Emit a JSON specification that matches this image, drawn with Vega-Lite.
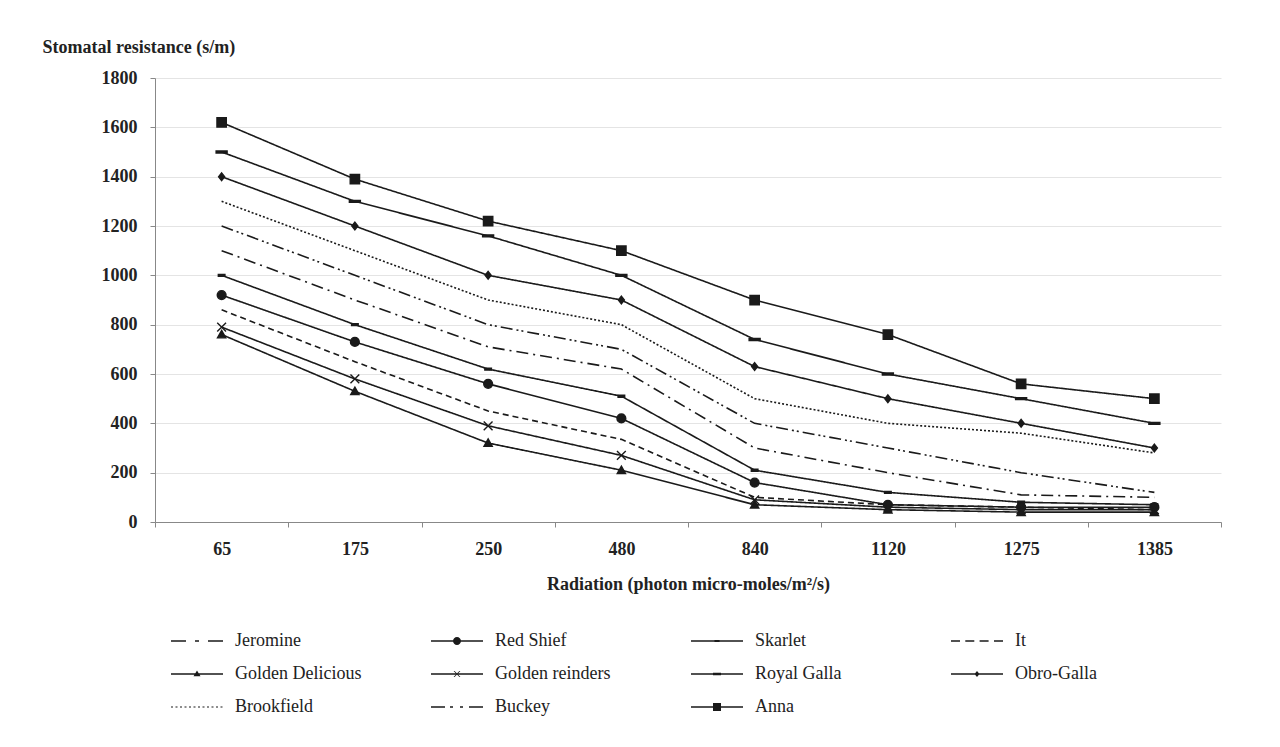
{
  "$schema": "https://vega.github.io/schema/vega-lite/v6.json",
  "width": 1066,
  "height": 444,
  "padding": {"left": 42, "top": 38, "right": 10, "bottom": 10},
  "background": "white",
  "config": {"view": {"stroke": null}, "font": "Liberation Serif"},
  "data": {"values": [
    {"variety": "Anna", "radiation": 65, "resistance": 1620},
    {"variety": "Anna", "radiation": 175, "resistance": 1390},
    {"variety": "Anna", "radiation": 250, "resistance": 1220},
    {"variety": "Anna", "radiation": 480, "resistance": 1100},
    {"variety": "Anna", "radiation": 840, "resistance": 900},
    {"variety": "Anna", "radiation": 1120, "resistance": 760},
    {"variety": "Anna", "radiation": 1275, "resistance": 560},
    {"variety": "Anna", "radiation": 1385, "resistance": 500},
    {"variety": "Royal Galla", "radiation": 65, "resistance": 1500},
    {"variety": "Royal Galla", "radiation": 175, "resistance": 1300},
    {"variety": "Royal Galla", "radiation": 250, "resistance": 1160},
    {"variety": "Royal Galla", "radiation": 480, "resistance": 1000},
    {"variety": "Royal Galla", "radiation": 840, "resistance": 740},
    {"variety": "Royal Galla", "radiation": 1120, "resistance": 600},
    {"variety": "Royal Galla", "radiation": 1275, "resistance": 500},
    {"variety": "Royal Galla", "radiation": 1385, "resistance": 400},
    {"variety": "Obro-Galla", "radiation": 65, "resistance": 1400},
    {"variety": "Obro-Galla", "radiation": 175, "resistance": 1200},
    {"variety": "Obro-Galla", "radiation": 250, "resistance": 1000},
    {"variety": "Obro-Galla", "radiation": 480, "resistance": 900},
    {"variety": "Obro-Galla", "radiation": 840, "resistance": 630},
    {"variety": "Obro-Galla", "radiation": 1120, "resistance": 500},
    {"variety": "Obro-Galla", "radiation": 1275, "resistance": 400},
    {"variety": "Obro-Galla", "radiation": 1385, "resistance": 300},
    {"variety": "Brookfield", "radiation": 65, "resistance": 1300},
    {"variety": "Brookfield", "radiation": 175, "resistance": 1100},
    {"variety": "Brookfield", "radiation": 250, "resistance": 900},
    {"variety": "Brookfield", "radiation": 480, "resistance": 800},
    {"variety": "Brookfield", "radiation": 840, "resistance": 500},
    {"variety": "Brookfield", "radiation": 1120, "resistance": 400},
    {"variety": "Brookfield", "radiation": 1275, "resistance": 360},
    {"variety": "Brookfield", "radiation": 1385, "resistance": 280},
    {"variety": "Buckey", "radiation": 65, "resistance": 1200},
    {"variety": "Buckey", "radiation": 175, "resistance": 1000},
    {"variety": "Buckey", "radiation": 250, "resistance": 800},
    {"variety": "Buckey", "radiation": 480, "resistance": 700},
    {"variety": "Buckey", "radiation": 840, "resistance": 400},
    {"variety": "Buckey", "radiation": 1120, "resistance": 300},
    {"variety": "Buckey", "radiation": 1275, "resistance": 200},
    {"variety": "Buckey", "radiation": 1385, "resistance": 120},
    {"variety": "Jeromine", "radiation": 65, "resistance": 1100},
    {"variety": "Jeromine", "radiation": 175, "resistance": 900},
    {"variety": "Jeromine", "radiation": 250, "resistance": 710},
    {"variety": "Jeromine", "radiation": 480, "resistance": 620},
    {"variety": "Jeromine", "radiation": 840, "resistance": 300},
    {"variety": "Jeromine", "radiation": 1120, "resistance": 200},
    {"variety": "Jeromine", "radiation": 1275, "resistance": 110},
    {"variety": "Jeromine", "radiation": 1385, "resistance": 100},
    {"variety": "Skarlet", "radiation": 65, "resistance": 1000},
    {"variety": "Skarlet", "radiation": 175, "resistance": 800},
    {"variety": "Skarlet", "radiation": 250, "resistance": 620},
    {"variety": "Skarlet", "radiation": 480, "resistance": 510},
    {"variety": "Skarlet", "radiation": 840, "resistance": 210},
    {"variety": "Skarlet", "radiation": 1120, "resistance": 120},
    {"variety": "Skarlet", "radiation": 1275, "resistance": 80},
    {"variety": "Skarlet", "radiation": 1385, "resistance": 70},
    {"variety": "Red Shief", "radiation": 65, "resistance": 920},
    {"variety": "Red Shief", "radiation": 175, "resistance": 730},
    {"variety": "Red Shief", "radiation": 250, "resistance": 560},
    {"variety": "Red Shief", "radiation": 480, "resistance": 420},
    {"variety": "Red Shief", "radiation": 840, "resistance": 160},
    {"variety": "Red Shief", "radiation": 1120, "resistance": 70},
    {"variety": "Red Shief", "radiation": 1275, "resistance": 60},
    {"variety": "Red Shief", "radiation": 1385, "resistance": 60},
    {"variety": "It", "radiation": 65, "resistance": 860},
    {"variety": "It", "radiation": 175, "resistance": 650},
    {"variety": "It", "radiation": 250, "resistance": 450},
    {"variety": "It", "radiation": 480, "resistance": 335},
    {"variety": "It", "radiation": 840, "resistance": 100},
    {"variety": "It", "radiation": 1120, "resistance": 70},
    {"variety": "It", "radiation": 1275, "resistance": 60},
    {"variety": "It", "radiation": 1385, "resistance": 50},
    {"variety": "Golden reinders", "radiation": 65, "resistance": 790},
    {"variety": "Golden reinders", "radiation": 175, "resistance": 580},
    {"variety": "Golden reinders", "radiation": 250, "resistance": 390},
    {"variety": "Golden reinders", "radiation": 480, "resistance": 270},
    {"variety": "Golden reinders", "radiation": 840, "resistance": 90},
    {"variety": "Golden reinders", "radiation": 1120, "resistance": 60},
    {"variety": "Golden reinders", "radiation": 1275, "resistance": 50},
    {"variety": "Golden reinders", "radiation": 1385, "resistance": 50},
    {"variety": "Golden Delicious", "radiation": 65, "resistance": 760},
    {"variety": "Golden Delicious", "radiation": 175, "resistance": 530},
    {"variety": "Golden Delicious", "radiation": 250, "resistance": 320},
    {"variety": "Golden Delicious", "radiation": 480, "resistance": 210},
    {"variety": "Golden Delicious", "radiation": 840, "resistance": 70},
    {"variety": "Golden Delicious", "radiation": 1120, "resistance": 50},
    {"variety": "Golden Delicious", "radiation": 1275, "resistance": 40},
    {"variety": "Golden Delicious", "radiation": 1385, "resistance": 40}
  ]},
  "encoding": {
    "x": {
      "field": "radiation", "type": "ordinal",
      "scale": {"type": "band", "paddingInner": 0, "paddingOuter": 0},
      "axis": {
        "title": "Radiation (photon micro-moles/m²/s)",
        "labelAngle": 0, "labelFont": "Liberation Serif", "labelFontSize": 18, "labelFontWeight": "bold", "labelColor": "#222",
        "labelPadding": 13, "tickBand": "extent", "tickSize": 5, "tickColor": "#888", "domainColor": "#888", "grid": false,
        "titleFont": "Liberation Serif", "titleFontSize": 18, "titleFontWeight": "bold", "titleColor": "#222", "titlePadding": 17
      }
    },
    "y": {
      "field": "resistance", "type": "quantitative",
      "scale": {"domain": [0, 1800], "nice": false},
      "axis": {
        "values": [0, 200, 400, 600, 800, 1000, 1200, 1400, 1600, 1800], "format": "d",
        "title": "Stomatal resistance (s/m)", "titleAngle": 0, "titleAlign": "left", "titleBaseline": "middle",
        "titleX": -113, "titleY": -31, "titleFont": "Liberation Serif", "titleFontSize": 18, "titleFontWeight": "bold", "titleColor": "#222",
        "labelFont": "Liberation Serif", "labelFontSize": 18, "labelFontWeight": "bold", "labelColor": "#222", "labelPadding": 13,
        "tickSize": 5, "tickColor": "#888", "domainColor": "#888", "gridColor": "#e4e4e4", "gridWidth": 1
      }
    }
  },
  "layer": [
    {
      "mark": {"type": "line", "color": "#1a1a1a", "strokeWidth": 1.6},
      "encoding": {
        "strokeDash": {
          "field": "variety", "type": "nominal", "legend": null,
          "scale": {
            "domain": ["Jeromine", "Red Shief", "Skarlet", "It", "Golden Delicious", "Golden reinders", "Royal Galla", "Obro-Galla", "Brookfield", "Buckey", "Anna"],
            "range": [[12, 5, 2, 5], [1, 0], [1, 0], [6, 4], [1, 0], [1, 0], [1, 0], [1, 0], [2, 2], [12, 4, 2, 3, 2, 4], [1, 0]]
          }
        }
      }
    },
    {
      "transform": [{"filter": {"field": "variety", "oneOf": ["Red Shief", "Skarlet", "Golden Delicious", "Golden reinders", "Royal Galla", "Obro-Galla", "Anna"]}}],
      "mark": {"type": "point", "filled": true, "color": "#1a1a1a", "stroke": "#1a1a1a", "strokeWidth": 1.4, "size": 121, "opacity": 1},
      "encoding": {
        "shape": {
          "field": "variety", "type": "nominal", "legend": null,
          "scale": {
            "domain": ["Red Shief", "Skarlet", "Golden Delicious", "Golden reinders", "Royal Galla", "Obro-Galla", "Anna"],
            "range": [
              "M0.8,0A0.8,0.8,0,1,1,-0.8,0A0.8,0.8,0,1,1,0.8,0Z",
              "M-0.6,-0.18H0.6V0.18H-0.6Z",
              "M0,-0.75L0.75,0.6L-0.75,0.6Z",
              "M-0.8,-0.8L0.8,0.8M-0.8,0.8L0.8,-0.8",
              "M-1,-0.18H1V0.18H-1Z",
              "M0,-0.7L0.55,0L0,0.7L-0.55,0Z",
              "M-0.85,-0.85H0.85V0.85H-0.85Z"
            ]
          }
        }
      }
    },
    {
      "transform": [{"filter": "datum.resistance < 0"}],
      "mark": {"type": "point", "filled": true, "color": "#1a1a1a", "size": 400, "opacity": 1},
      "encoding": {
        "shape": {
          "field": "variety", "type": "nominal",
          "scale": {
            "domain": ["Jeromine", "Red Shief", "Skarlet", "It", "Golden Delicious", "Golden reinders", "Royal Galla", "Obro-Galla", "Brookfield", "Buckey", "Anna"],
            "range": [
              "M-1,-0.07H0.5V0.07H-1ZM1.4,-0.07H1.8V0.07H1.4ZM2.7,-0.07H4.2V0.07H2.7Z",
              "M-1,-0.07H4.2V0.07H-1ZM2,0A0.4,0.4,0,1,1,1.2,0A0.4,0.4,0,1,1,2,0Z",
              "M-1,-0.07H4.2V0.07H-1ZM1.35,-0.11H1.85V0.11H1.35Z",
              "M-1,-0.07H-0.1V0.07H-1ZM0.43,-0.07H1.33V0.07H0.43ZM1.86,-0.07H2.76V0.07H1.86ZM3.3,-0.07H4.2V0.07H3.3Z",
              "M-1,-0.07H4.2V0.07H-1ZM1.6,-0.35L1.95,0.22L1.25,0.22Z",
              "M-1,-0.07H4.2V0.07H-1ZM1.26,-0.3L1.36,-0.3L1.94,0.3L1.84,0.3ZM1.84,-0.3L1.94,-0.3L1.36,0.3L1.26,0.3Z",
              "M-1,-0.07H4.2V0.07H-1ZM1.2,-0.12H2V0.12H1.2Z",
              "M-1,-0.07H4.2V0.07H-1ZM1.6,-0.3L1.85,0L1.6,0.3L1.35,0Z",
              "M-1,-0.06H-0.8V0.06H-1ZM-0.55,-0.06H-0.35V0.06H-0.55ZM-0.1,-0.06H0.1V0.06H-0.1ZM0.35,-0.06H0.55V0.06H0.35ZM0.8,-0.06H1V0.06H0.8ZM1.25,-0.06H1.45V0.06H1.25ZM1.7,-0.06H1.9V0.06H1.7ZM2.15,-0.06H2.35V0.06H2.15ZM2.6,-0.06H2.8V0.06H2.6ZM3.05,-0.06H3.25V0.06H3.05ZM3.5,-0.06H3.7V0.06H3.5ZM3.95,-0.06H4.15V0.06H3.95Z",
              "M-1,-0.07H0.4V0.07H-1ZM0.9,-0.07H1.2V0.07H0.9ZM1.9,-0.07H2.2V0.07H1.9ZM2.8,-0.07H4.2V0.07H2.8Z",
              "M-1,-0.07H4.2V0.07H-1ZM1.2,-0.4H2V0.4H1.2Z"
            ]
          },
          "legend": {
            "title": null, "orient": "bottom", "direction": "horizontal", "columns": 4, "gridAlign": "all",
            "columnPadding": 69, "rowPadding": 14, "labelFont": "Liberation Serif", "labelFontSize": 18, "labelColor": "#222",
            "labelOffset": 44, "labelLimit": 300, "symbolSize": 400, "symbolStrokeWidth": 0,
            "symbolFillColor": "#1a1a1a", "offset": 22, "padding": 16,
            "encode": {"symbols": {"update": {"fill": {"value": "#1a1a1a"}, "strokeWidth": {"value": 0}, "opacity": {"value": 1}}}}
          }
        }
      }
    }
  ],
  "resolve": {"scale": {"shape": "independent"}}
}
